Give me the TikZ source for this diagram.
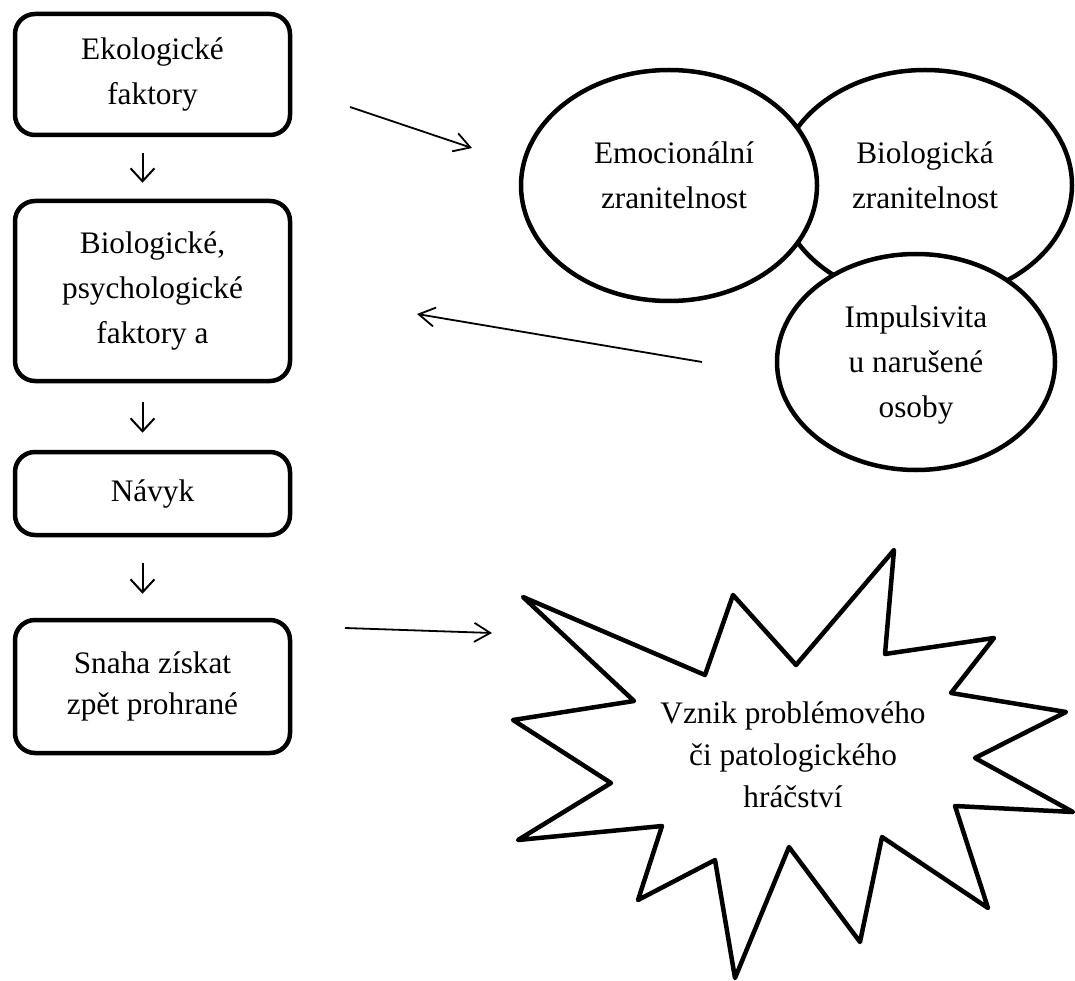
\documentclass[tikz,border=0pt]{standalone}
\usepackage{fontspec}
\setmainfont{Liberation Serif}
\usetikzlibrary{shapes.geometric,arrows.meta}
\begin{document}
\begin{tikzpicture}[x=1pt,y=-1pt,
  lbl/.style={align=center, font=\fontsize{31.3}{45}\selectfont, inner sep=0pt},
  stepbox/.style={lbl, draw, line width=4.5pt, rounded corners=20pt, minimum width=275pt},
  bubble/.style={ellipse, draw, fill=white, line width=4.5pt, inner sep=0pt},
  conn/.style={line width=1.8pt, -{Straight Barb[length=16pt,width=19pt]}},
  down/.style={line width=2pt, -{Straight Barb[length=13pt,width=24pt]}},
  burst/.style={draw, fill=white, line width=4.5pt, line join=round}
]
\useasboundingbox (0,0) rectangle (1075,981);
\fill[white] (0,0) rectangle (1075,981);

% left column of steps
\node[stepbox, minimum height=121pt] (b1) at (152.5,74.5) {Ekologické\\faktory};
\node[stepbox, minimum height=180pt] (b2) at (152.5,291) {Biologické,\\psychologické\\faktory a};
\node[stepbox, minimum height=83pt]  (b3) at (152.5,493.5) {Návyk};
\node[stepbox, minimum height=133pt, font=\fontsize{31.3}{41}\selectfont] (b4) at (152.5,686.5) {Snaha získat\\zpět prohrané};

\draw[down, shorten <=16pt, shorten >=16pt] ([xshift=-10pt]b1.south) -- ([xshift=-10pt]b2.north);
\draw[down, shorten <=19pt, shorten >=17pt] ([xshift=-10pt]b2.south) -- ([xshift=-10pt]b3.north);
\draw[down, shorten <=26pt, shorten >=24pt] ([xshift=-10pt]b3.south) -- ([xshift=-10pt]b4.north);

% overlapping vulnerability ellipses
\node[bubble, minimum width=294pt, minimum height=230pt] (bio) at (925,185) {};
\node[bubble, minimum width=296pt, minimum height=231pt] (emo) at (669,185.5) {};
\node[bubble, minimum width=278pt, minimum height=216pt] (imp) at (916,362) {};
\node[lbl] (emotxt) at (674,175) {Emocionální\\zranitelnost};
\node[lbl] (biotxt) at (925,175) {Biologická\\zranitelnost};
\node[lbl] (imptxt) at (916,365) {Impulsivita\\u narušené\\osoby};

% outcome burst
\draw[burst] (523,597) -- (705,675) -- (733,595) -- (796,665) -- (894,550)
  -- (885,654) -- (994,638) -- (951,693) -- (1066,712) -- (975,758)
  -- (1073,812) -- (955,806) -- (988,908) -- (882,837) -- (860,942)
  -- (789,847) -- (735,978) -- (715,860) -- (638,900) -- (662,826)
  -- (518,840) -- (611,783) -- (513,720) -- (634,701) -- cycle;
\node[lbl, font=\fontsize{31.3}{42}\selectfont] (outcome) at (793,755) {Vznik problémového\\či patologického\\hráčství};

% free arrows
\coordinate (p1) at (350,107); \coordinate (q1) at (472,148);
\coordinate (p2) at (702,362); \coordinate (q2) at (417,314);
\coordinate (p3) at (345,628); \coordinate (q3) at (492,633);
\draw[conn] (p1) -- (q1);
\draw[conn] (p2) -- (q2);
\draw[conn] (p3) -- (q3);
\end{tikzpicture}
\end{document}
